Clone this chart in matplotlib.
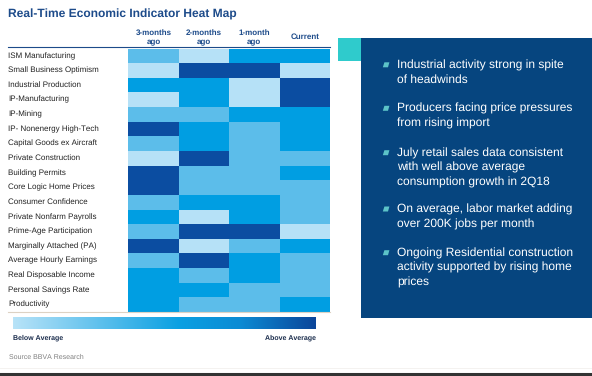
import numpy as np
import matplotlib
matplotlib.use("Agg")
import matplotlib.pyplot as plt
from matplotlib.colors import ListedColormap, LinearSegmentedColormap
from matplotlib.patches import Rectangle, Polygon
from matplotlib.lines import Line2D

plt.rcParams['font.family'] = ['Liberation Sans', 'DejaVu Sans']
plt.rcParams['text.hinting'] = 'no_hinting'
plt.rcParams['text.hinting_factor'] = 1

# ---------------- data ----------------
title = "Real-Time Economic Indicator Heat Map"
columns = [["3-months", "ago"], ["2-months", "ago"], ["1-month", "ago"], ["Current"]]
indicators = [
    "ISM Manufacturing", "Small Business Optimism", "Industrial Production",
    "IP-Manufacturing", "IP-Mining", "IP- Nonenergy High-Tech",
    "Capital Goods ex Aircraft", "Private Construction", "Building Permits",
    "Core Logic Home Prices", "Consumer Confidence", "Private Nonfarm Payrolls",
    "Prime-Age Participation", "Marginally Attached (PA)", "Average Hourly Earnings",
    "Real Disposable Income", "Personal Savings Rate", "Productivity",
]
# 1 = well below average ... 4 = well above average
col_3m = [2, 1, 3, 1, 2, 4, 2, 1, 4, 4, 2, 3, 2, 4, 2, 3, 3, 3]
col_2m = [1, 4, 3, 3, 2, 3, 3, 4, 2, 2, 3, 1, 4, 1, 4, 2, 3, 2]
col_1m = [3, 4, 1, 1, 3, 2, 2, 2, 2, 2, 3, 3, 4, 2, 3, 3, 2, 2]
col_cur = [3, 1, 4, 4, 3, 3, 3, 2, 3, 2, 2, 2, 1, 3, 2, 2, 2, 3]
legend_low = "Below Average"
legend_high = "Above Average"
source = "Source BBVA Research"
bullets = [
    ["Industrial activity strong in spite", "of headwinds"],
    ["Producers facing price pressures", "from rising import"],
    ["July retail sales data consistent", "with well above average",
     "consumption growth in 2Q18"],
    ["On average, labor market adding", "over 200K jobs per month"],
    ["Ongoing Residential construction", "activity supported by rising home",
     "prices"],
]

# ---------------- styles ----------------
W, H = 592, 376
level_colors = ["#b6e1f7", "#5cbdea", "#009ee2", "#0b4da1"]
navy_text = "#1d4b8a"
panel_color = "#06457f"
teal = "#2fcbcc"

fig = plt.figure(figsize=(W / 100, H / 100), dpi=100)
fig.patch.set_facecolor("white")

def fx(x):
    return x / W

def fy(y):
    return 1 - y / H

# heatmap axes
hx0, hx1, hy0, hy1 = 128.3, 330.0, 48.5, 312.0
ax = fig.add_axes([fx(hx0), fy(hy1), fx(hx1) - fx(hx0), (hy1 - hy0) / H])
data = np.array([col_3m, col_2m, col_1m, col_cur]).T
cmap = ListedColormap(level_colors)
ax.pcolormesh(np.arange(data.shape[1] + 1), np.arange(data.shape[0] + 1), data,
              cmap=cmap, vmin=0.5, vmax=4.5)
ax.set_xlim(0, data.shape[1])
ax.set_ylim(data.shape[0], 0)
ax.set_axis_off()

# row labels
trans = ax.get_yaxis_transform()
lab_x = (8 - hx0) / (hx1 - hx0)
for i, name in enumerate(indicators):
    ax.text(lab_x, i + 0.5, name, transform=trans, ha="left", va="center",
            fontsize=5.5, color="#222222", clip_on=False)

# column headers (baselines in pixels)
for j, lines in enumerate(columns):
    if len(lines) == 2:
        bases = [35.0, 44.5]
    else:
        bases = [39.3]
    for line, b in zip(lines, bases):
        fig.text(fx(hx0 + (j + 0.5) * (hx1 - hx0) / 4), fy(b), line, ha="center",
                 va="baseline", fontsize=6.1, fontweight="bold", color=navy_text)

# lines
fig.add_artist(Line2D([fx(8), fx(330)], [fy(47.3), fy(47.3)], color="#1d4b8a", lw=0.8))
fig.add_artist(Line2D([fx(8), fx(330)], [fy(312.3), fy(312.3)], color="#ddd2c4", lw=0.8))
fig.add_artist(Line2D([0, 1], [fy(373.5), fy(373.5)], color="#333333", lw=2.2))
fig.add_artist(Line2D([0, 1], [fy(368), fy(368)], color="#f2f0ee", lw=0.6))

# title
fig.text(fx(8), fy(14), title, fontsize=8.5, fontweight="bold", color=navy_text,
         ha="left", va="center")

# gradient legend
cax = fig.add_axes([fx(13), fy(329.5), fx(316) - fx(13), (329.5 - 316.5) / H])
grad_cmap = LinearSegmentedColormap.from_list(
    "grad", [(0.0, "#b8e3f8"), (0.55, "#0aa0e2"), (0.75, "#0b8bd4"), (1.0, "#0b469a")])
cax.imshow(np.linspace(0, 1, 256)[None, :], aspect="auto", cmap=grad_cmap,
           extent=[0, 1, 0, 1])
cax.set_axis_off()
fig.text(fx(13), fy(338), legend_low, fontsize=5.4, fontweight="bold",
         color="#1b2d4d", ha="left", va="center")
fig.text(fx(316), fy(338), legend_high, fontsize=5.4, fontweight="bold",
         color="#1b2d4d", ha="right", va="center")
fig.text(fx(9), fy(357), source, fontsize=4.9, color="#808080", ha="left", va="center")

# right panel
fig.add_artist(Rectangle((fx(338), fy(60.7)), fx(361) - fx(338), (60.7 - 38) / H,
                         transform=fig.transFigure, color=teal, lw=0))
fig.add_artist(Rectangle((fx(361), fy(318)), fx(592) - fx(361), (318 - 38) / H,
                         transform=fig.transFigure, color=panel_color, lw=0))

first_baseline = [68.3, 111.8, 156.2, 212.5, 256.2]
line_h = 14.7
for b0, lines in zip(first_baseline, bullets):
    for k, line in enumerate(lines):
        fig.text(fx(397), fy(b0 + k * line_h), line, fontsize=8.5, color="white",
                 ha="left", va="baseline")
    # bullet marker (slanted parallelogram)
    bx, bb = 386.0, b0 - 1.0
    pts = [(bx - 3.2, bb), (bx + 2.0, bb), (bx + 3.4, bb - 5.0), (bx - 1.6, bb - 5.0)]
    fig.add_artist(Polygon([(fx(px), fy(py)) for px, py in pts], closed=True,
                           transform=fig.transFigure, color="#5cc3c8", lw=0))

fig.savefig("out.png", dpi=100, facecolor="white")
